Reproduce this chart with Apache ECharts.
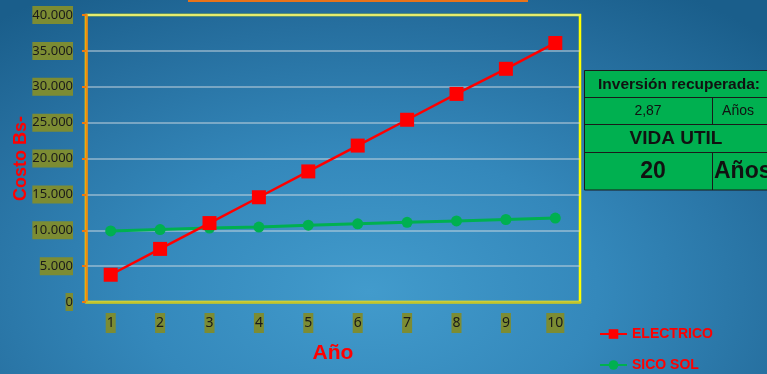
<!DOCTYPE html>
<html>
<head>
<meta charset="utf-8">
<script src="https://cdn.jsdelivr.net/npm/echarts@6/dist/echarts.min.js"></script>
<style>
html,body{margin:0;padding:0;width:767px;height:374px;overflow:hidden;}
#chart{width:767px;height:374px;
background: radial-gradient(ellipse 75% 95% at 48% 78%, #429bcc 0%, #3488bb 40%, #266f9f 75%, #1a5e8b 100%);}
</style>
</head>
<body>
<div id="chart"></div>
<script>
// ---- data ----
var years = ['1','2','3','4','5','6','7','8','9','10'];
var electrico = [3800, 7400, 11000, 14600, 18200, 21800, 25400, 29000, 32500, 36100];
var sicoSol = [9900, 10100, 10300, 10450, 10700, 10900, 11100, 11300, 11500, 11700];
var seriesNames = ['ELECTRICO', 'SICO SOL'];
var yTicks = [0, 5000, 10000, 15000, 20000, 25000, 30000, 35000, 40000];
var yTickLabels = ['0', '5.000', '10.000', '15.000', '20.000', '25.000', '30.000', '35.000', '40.000'];
var tableTitle = 'Inversión recuperada:';
var paybackYears = '2,87';
var unitLabel = 'Años';
var lifeTitle = 'VIDA UTIL';
var lifeYears = '20';

var chart = echarts.init(document.getElementById('chart'), null, {renderer: 'canvas'});

var labelBox = {
  color: '#1a1a1a',
  fontFamily: 'Noto Sans',
  backgroundColor: '#7c8c33'
};
var legendText = {color: '#ff0000', fontWeight: 'bold', fontSize: 14, fontFamily: 'Liberation Sans'};

var option = {
  backgroundColor: 'transparent',
  animation: false,
  grid: {
    left: 86, top: 15, right: 187, bottom: 72,
    containLabel: false,
    outerBoundsMode: 'none',
    show: true, borderColor: '#ffff00', borderWidth: 2.5, backgroundColor: 'transparent'
  },
  legend: [
    {
      orient: 'horizontal', left: 594, top: 322,
      itemWidth: 27, itemHeight: 12,
      data: [seriesNames[0]], textStyle: legendText
    },
    {
      orient: 'horizontal', left: 594, top: 353,
      itemWidth: 27, itemHeight: 12,
      data: [seriesNames[1]], textStyle: legendText
    }
  ],
  xAxis: {
    type: 'category',
    data: years,
    boundaryGap: true,
    name: 'Año',
    nameLocation: 'middle',
    nameGap: 41,
    nameMoveOverlap: false,
    nameTextStyle: {color: '#ff0000', fontWeight: 'bold', fontSize: 21, fontFamily: 'Liberation Sans'},
    axisLine: {lineStyle: {color: '#c4c42a', width: 2.5}},
    axisTick: {show: false},
    axisLabel: Object.assign({}, labelBox, {fontSize: 14, margin: 11, padding: [3, 1, 3, 1]})
  },
  yAxis: {
    type: 'value',
    min: 0, max: 40000, interval: 5000,
    name: 'Costo Bs-',
    nameLocation: 'middle',
    nameRotate: 90,
    nameGap: 56,
    nameMoveOverlap: false,
    nameTextStyle: {color: '#ff0000', fontWeight: 'bold', fontSize: 18, fontFamily: 'Liberation Sans'},
    axisLine: {show: true, lineStyle: {color: '#ee8a10', width: 2.5}},
    axisTick: {show: true, length: 4, lineStyle: {color: '#ee7a10', width: 2}},
    axisLabel: Object.assign({}, labelBox, {
      fontSize: 13, margin: 13, padding: [3, 0, 2, 0],
      formatter: function (v) { var i = yTicks.indexOf(v); return i >= 0 ? yTickLabels[i] : ''; }
    }),
    splitLine: {lineStyle: {color: 'rgba(205,215,225,0.65)', width: 1.5}}
  },
  series: [
    {
      name: seriesNames[0], type: 'line', data: electrico,
      symbol: 'rect', symbolSize: 14,
      itemStyle: {color: '#ff0000'},
      lineStyle: {color: '#ff0000', width: 2.5},
      z: 3
    },
    {
      name: seriesNames[1], type: 'line', data: sicoSol,
      symbol: 'circle', symbolSize: 11,
      itemStyle: {color: '#00b050'},
      lineStyle: {color: '#00b050', width: 3},
      z: 2
    }
  ],
  graphic: [
    {type: 'rect', shape: {x: 188, y: -1, width: 340, height: 3}, style: {fill: '#e8731a'}},
    {type: 'rect', shape: {x: 584.5, y: 70.5, width: 200, height: 119.5}, style: {fill: '#00b050', stroke: '#1a1a1a', lineWidth: 1}},
    {type: 'line', shape: {x1: 584, y1: 97.5, x2: 767, y2: 97.5}, style: {stroke: '#1a1a1a', lineWidth: 1}},
    {type: 'line', shape: {x1: 584, y1: 124.5, x2: 767, y2: 124.5}, style: {stroke: '#1a1a1a', lineWidth: 1}},
    {type: 'line', shape: {x1: 584, y1: 152.5, x2: 767, y2: 152.5}, style: {stroke: '#1a1a1a', lineWidth: 1}},
    {type: 'line', shape: {x1: 712.5, y1: 97.5, x2: 712.5, y2: 124.5}, style: {stroke: '#1a1a1a', lineWidth: 1}},
    {type: 'line', shape: {x1: 712.5, y1: 152.5, x2: 712.5, y2: 190}, style: {stroke: '#1a1a1a', lineWidth: 1}},
    {type: 'text', x: 679, y: 84.5, style: {text: tableTitle, fill: '#111', font: 'bold 15.5px "Liberation Sans"', textAlign: 'center', textVerticalAlign: 'middle'}},
    {type: 'text', x: 648, y: 111.5, style: {text: paybackYears, fill: '#111', font: '14px "Liberation Sans"', textAlign: 'center', textVerticalAlign: 'middle'}},
    {type: 'text', x: 738, y: 111.5, style: {text: unitLabel, fill: '#111', font: '14px "Liberation Sans"', textAlign: 'center', textVerticalAlign: 'middle'}},
    {type: 'text', x: 676, y: 139, style: {text: lifeTitle, fill: '#111', font: 'bold 19px "Liberation Sans"', textAlign: 'center', textVerticalAlign: 'middle'}},
    {type: 'text', x: 653, y: 172, style: {text: lifeYears, fill: '#111', font: 'bold 23px "Liberation Sans"', textAlign: 'center', textVerticalAlign: 'middle'}},
    {type: 'text', x: 714, y: 172, style: {text: unitLabel, fill: '#111', font: 'bold 23px "Liberation Sans"', textAlign: 'left', textVerticalAlign: 'middle'}}
  ]
};
chart.setOption(option);
</script>
</body>
</html>
